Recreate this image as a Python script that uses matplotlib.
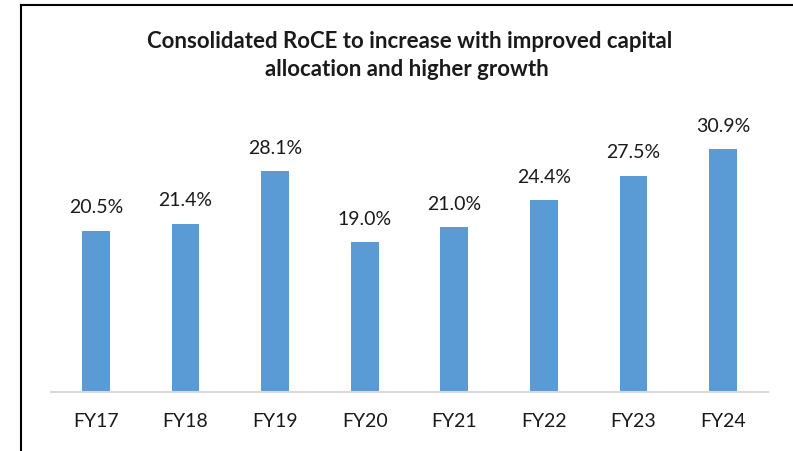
import matplotlib
matplotlib.use("Agg")
import matplotlib.pyplot as plt
from matplotlib.lines import Line2D

# RoCE by fiscal year (%)
years = ['FY17', 'FY18', 'FY19', 'FY20', 'FY21', 'FY22', 'FY23', 'FY24']
roce = [20.5, 21.4, 28.1, 19.0, 21.0, 24.4, 27.5, 30.9]

plt.rcParams['font.family'] = ['Lato', 'DejaVu Sans']

fig = plt.figure(figsize=(7.93, 4.51), dpi=100)
ax = fig.add_axes([51/793, 1-392/451, 717/793, 292/451])

x = range(len(years))
bars = ax.bar(x, roce, width=0.31, color='#5B9BD5', zorder=2)
for xi, v in zip(x, roce):
    ax.text(xi, v + 1.8, '%.1f%%' % v, ha='center', va='bottom', fontsize=14, color='#1a1a1a')

ax.set_xlim(-0.5, len(years) - 0.5)
ax.set_ylim(0, 37.1)
ax.set_xticks(list(x))
ax.set_xticklabels(years, fontsize=14, color='#1a1a1a')
ax.tick_params(axis='x', length=0, pad=15)
ax.set_yticks([])
for s in ['top', 'right', 'left']:
    ax.spines[s].set_visible(False)
ax.spines['bottom'].set_color('#d9d9d9')
ax.spines['bottom'].set_linewidth(1.5)

fig.text(410/793, 1-42/451, 'Consolidated RoCE to increase with improved capital',
         ha='center', va='center', fontsize=16, fontweight='bold', color='#1a1a1a')
fig.text(407/793, 1-70/451, 'allocation and higher growth',
         ha='center', va='center', fontsize=16, fontweight='bold', color='#1a1a1a')

# frame on left and top
fig.add_artist(Line2D([21/793, 21/793], [0, 1-5/451], color='black', lw=1.5, transform=fig.transFigure))
fig.add_artist(Line2D([21/793, 1], [1-5/451, 1-5/451], color='black', lw=1.5, transform=fig.transFigure))

fig.savefig('out.png', dpi=100)
